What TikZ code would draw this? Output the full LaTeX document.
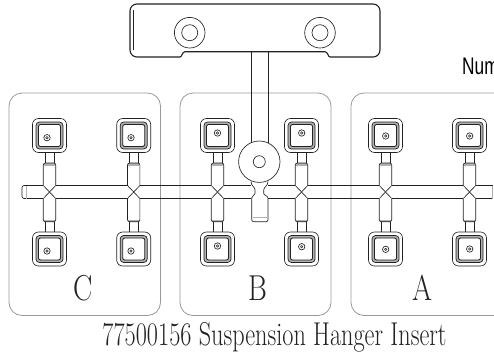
\documentclass[tikz,border=0pt]{standalone}
\usepackage{fontspec}
\newfontfamily\sansf{Liberation Sans}
\definecolor{ink}{HTML}{222222}
\definecolor{pgray}{HTML}{999999}
\definecolor{gband}{HTML}{B0B0B0}
\tikzset{
 ln/.style={draw=ink,line width=0.65pt},
 thick ln/.style={draw=ink,line width=1.1pt},
 panel/.style={draw=pgray,line width=0.8pt,rounded corners=13pt},
 lab/.style={inner sep=0pt,anchor=base,text=ink},
}
\newcommand{\sq}[4]{% cx, cy, dotx, doty
  \draw[ln,rounded corners=6pt] (#1-17,#2-17) rectangle (#1+17,#2+17);
  \fill[gband,even odd rule,rounded corners=3pt] (#1-13.5,#2-13.5) rectangle (#1+13.5,#2+13.5) (#1-11,#2-11) rectangle (#1+11,#2+11);
  \draw[draw=ink,line width=0.7pt,rounded corners=3.5pt] (#1-13.5,#2-13.5) rectangle (#1+13.5,#2+13.5);
  \draw[draw=ink,line width=0.8pt,rounded corners=2pt] (#1-11,#2-11) rectangle (#1+11,#2+11);
  \draw[ln] (#3,#4) circle (3.2pt);
  \draw[draw=ink,line width=0.5pt] (#3,#4) circle (1.2pt);
}
\begin{document}
\begin{tikzpicture}[x=1pt,y=-1pt]
\useasboundingbox (0,0) rectangle (494,354);
% panels
\draw[panel] (9,93) rectangle (160.5,315.5);
\draw[panel] (180,93) rectangle (331,315.5);
\draw[panel] (500,93) -- (351,93) -- (351,315.5) -- (500,315.5);
% bracket
\draw[thick ln,rounded corners=7pt] (180,57) -- (130,57) -- (130,4) -- (380,4) -- (380,57) -- (330,57);
\draw[ln] (133,10) -- (133,50);
\draw[thick ln] (180,57) .. controls (182,57) and (182,52) .. (185,51.7) -- (325,51.7) .. controls (328,52) and (328,57) .. (330,57);
\foreach \hx in {189.7,320}{
  \draw[ln] (\hx,32.7) circle (15.3pt);
  \draw[ln] (\hx,32.7) circle (8pt);
}
% feed bar
\foreach \a/\b in {26/43.3,55.7/127.5,139.9/211.3,223.7/251,268/295.3,307.7/379.3,391.7/463.3,475.7/492.5}{
  \draw[ln] (\a,185.5) -- (\b,185.5);
  \draw[ln] (\a,198.5) -- (\b,198.5);
}
\draw[ln,rounded corners=2pt] (26,185.5) -- (22,185.5) -- (22,198.5) -- (26,198.5);
\draw[draw=gband,line width=0.8pt] (26,185.5) -- (26,198.5);
\draw[draw=gband,line width=0.8pt] (492.5,185.5) -- (492.5,198.5);
% columns
\foreach \cx/\dx/\ty/\by in {49.5/47/137.7/251,133.7/131/137.7/251,217.5/217.5/133/246,301.5/301.7/133/246.7,385.5/385.7/136/249.3,469.5/469.7/136/249}{
  \sq{\cx}{135.5}{\dx}{\ty}
  \sq{\cx}{249}{\dx}{\by}
  \fill[gband] (\cx-5.5,163) rectangle (\cx+5.5,165.5);
  \fill[gband] (\cx-5.5,219.5) rectangle (\cx+5.5,221.7);
  \draw[ln] (\cx-4.5,152.5) -- (\cx-4.5,163) (\cx+4.5,152.5) -- (\cx+4.5,163);
  \draw[ln] (\cx-4.5,221.7) -- (\cx-4.5,232) (\cx+4.5,221.7) -- (\cx+4.5,232);
  \draw[ln,rounded corners=2pt] (\cx-6.2,185.5) -- (\cx-6.2,163) -- (\cx+6.2,163) -- (\cx+6.2,185.5);
  \draw[ln,rounded corners=2pt] (\cx-6.2,198.5) -- (\cx-6.2,221.7) -- (\cx+6.2,221.7) -- (\cx+6.2,198.5);
  \draw[ln] (\cx-6.2,185.5) -- (\cx+6.2,198.5) (\cx+6.2,185.5) -- (\cx-6.2,198.5);
}
% hub
\draw[ln] (251.7,51.7) -- (251.7,143) (268.3,51.7) -- (268.3,143);
\draw[ln,fill=white] (259.3,161.7) circle (20.7pt);
\draw[ln] (259.3,161.7) circle (6pt);
\draw[ln,rounded corners=2pt] (251,181.5) .. controls (251,186) and (255,187) .. (255,191.7) .. controls (255,195) and (251.7,196) .. (251.7,200) -- (251.7,221.7) -- (268,221.7) -- (268,200) .. controls (268,196) and (263.8,195) .. (263.8,191.7) .. controls (263.8,187) and (268,186) .. (268,181.5);
\draw[draw=gband,line width=0.8pt] (252.5,217.7) -- (267.2,217.7);
% texts
\node[lab] (c) at (83,300) {\scalebox{0.8}[1]{\fontsize{36}{38}\selectfont C}};
\node[lab] (b) at (258,300) {\scalebox{0.8}[1]{\fontsize{36}{38}\selectfont B}};
\node[lab] (a) at (422,300) {\scalebox{0.8}[1]{\fontsize{36}{38}\selectfont A}};
\node[lab] (cap) at (274.5,345) {\scalebox{0.735}[1]{\fontsize{33}{36}\selectfont 77500156 Suspension Hanger Insert}};
\node[inner sep=0pt,anchor=base west,text=black] (num) at (462,74) {\scalebox{0.72}[1]{\sansf\fontsize{24}{26}\selectfont Num}};
\end{tikzpicture}
\end{document}
